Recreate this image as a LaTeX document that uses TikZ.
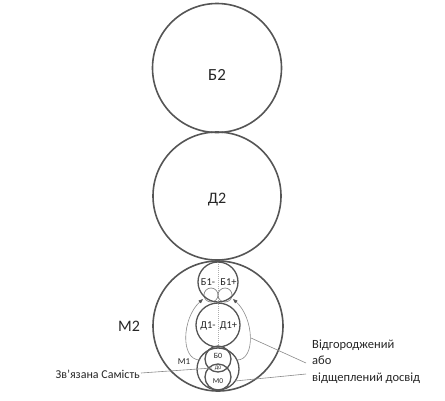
\documentclass[tikz,border=0pt]{standalone}
\usepackage{fontspec}
\setmainfont{Carlito}
\usetikzlibrary{arrows.meta}
\definecolor{circ}{HTML}{555555}
\definecolor{thin}{HTML}{8A8A8A}
\tikzset{
  bigc/.style={draw=circ, line width=1.6pt, circle, inner sep=0pt},
  midc/.style={draw=circ, line width=1.3pt, circle, inner sep=0pt},
  smallc/.style={draw=thin, line width=0.7pt, circle, inner sep=0pt},
  thinline/.style={draw=thin, line width=0.6pt},
  lbl/.style={inner sep=0pt, text=black!85},
  looptip/.style={-{Triangle[length=4.5pt,width=3.5pt,color=circ]}},
}
\begin{document}
\begin{tikzpicture}[x=1pt,y=-1pt]
\useasboundingbox (0,0) rectangle (445,400);
% big circles
\node[bigc, minimum size=129pt] (B2) at (217,68) {};
\node[bigc, minimum size=128pt] (D2) at (217,196) {};
\node[bigc, minimum size=130pt] (M2) at (218,326) {};
\node[lbl, font=\fontsize{17}{17}\selectfont] (tB2) at (217,75) {Б2};
\node[lbl, font=\fontsize{16}{16}\selectfont] (tD2) at (217,200) {Д2};
\node[lbl, font=\fontsize{16}{16}\selectfont] (tM2) at (129,326) {М2};
% central dotted axis
\coordinate (axT) at (218,262);
\coordinate (axB) at (218,347);
\draw[draw=thin!70, line width=0.4pt, dash pattern=on 1pt off 1pt] (axT) -- (axB);
% small circles in B1
\node[smallc, minimum size=14pt] (s1) at (211,295) {};
\node[smallc, minimum size=14pt] (s2) at (225,295) {};
% inner circles
\node[midc, minimum size=40pt] (B1) at (218,282) {};
\node[midc, minimum size=44pt] (D1) at (218,325) {};
\node[midc, minimum size=42pt] (M1) at (218,369) {};
\node[midc, minimum size=26pt] (B0) at (218,359) {};
\node[midc, minimum size=26pt] (M0) at (218,377) {};
% inner labels
\node[lbl, font=\fontsize{10.5}{10.5}\selectfont] (tB1m) at (208,282) {Б1-};
\node[lbl, font=\fontsize{10.5}{10.5}\selectfont] (tB1p) at (228.5,282) {Б1+};
\node[lbl, font=\fontsize{10.5}{10.5}\selectfont] (tD1m) at (208,326) {Д1-};
\node[lbl, font=\fontsize{10.5}{10.5}\selectfont] (tD1p) at (228.5,326) {Д1+};
\node[lbl, font=\fontsize{8}{8}\selectfont] (tB0) at (218,356) {Б0};
\node[lbl, font=\fontsize{5.5}{5.5}\selectfont] (tD0) at (218,368.5) {Д0};
\node[lbl, font=\fontsize{7.5}{7.5}\selectfont] (tM0) at (218,381) {М0};
\node[lbl, font=\fontsize{9}{9}\selectfont] (tM1) at (184,362) {М1};
% loops with arrows
\coordinate (la) at (203,299);
\coordinate (lb) at (200,360);
\coordinate (ra) at (233,299);
\coordinate (rb) at (237,360);
\draw[thinline, looptip] (lb) .. controls (180,360) and (182,318) .. (la);
\draw[thinline, looptip] (rb) .. controls (256,360) and (254,318) .. (ra);
% pointer lines
\node[lbl, anchor=base west, font=\fontsize{12.5}{12.5}\selectfont] (r1) at (312,348) {Відгороджений};
\node[lbl, anchor=base west, font=\fontsize{12.5}{12.5}\selectfont] (r2) at (312,364) {або};
\node[lbl, anchor=base west, font=\fontsize{12.5}{12.5}\selectfont] (r3) at (312,381) {відщеплений досвід};
\node[lbl, anchor=base east, font=\fontsize{12}{12}\selectfont] (zl) at (140,378) {Зв'язана Самість};
\coordinate (pR) at (251,338);
\coordinate (pR2) at (306,363);
\coordinate (pM) at (235,381);
\coordinate (pM2) at (306,374);
\coordinate (pZ) at (141,373);
\coordinate (pD) at (212,368);
\draw[thinline] (pR) -- (pR2);
\draw[thinline] (pM) -- (pM2);
\draw[thinline] (pZ) -- (pD);
\end{tikzpicture}
\end{document}
